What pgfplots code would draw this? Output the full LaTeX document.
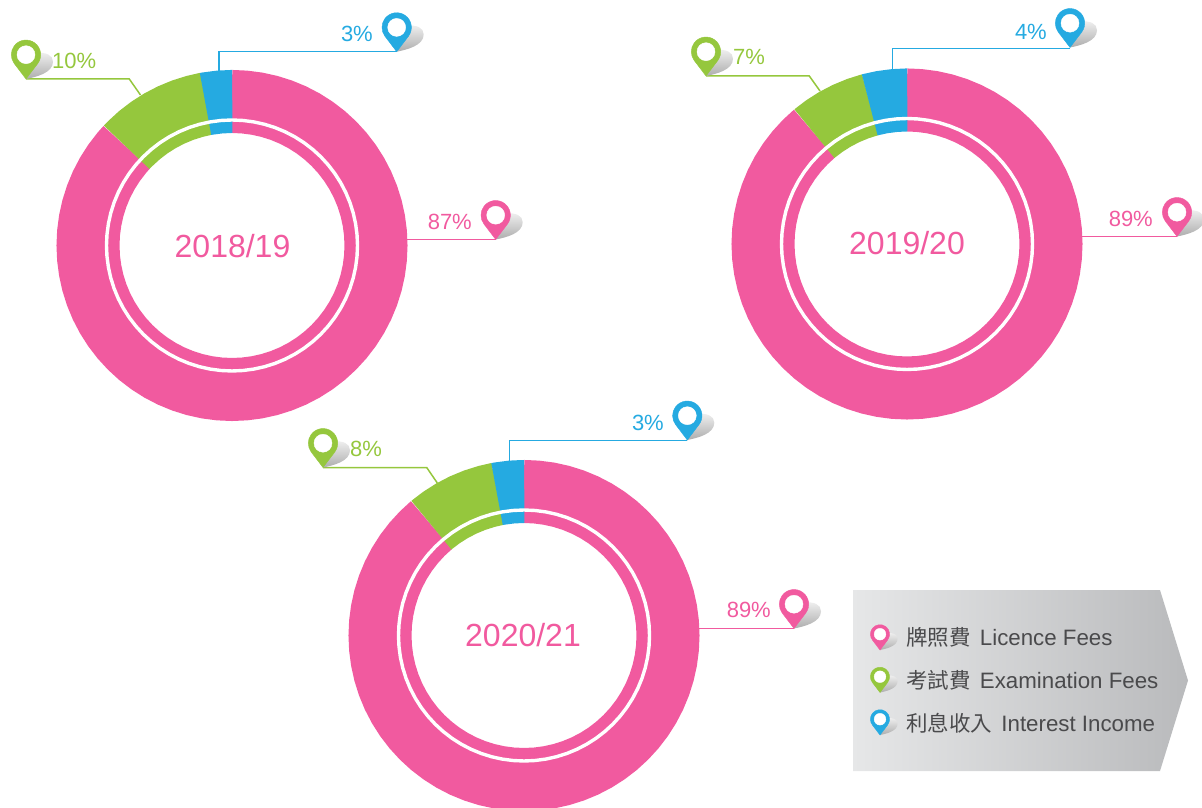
\documentclass[border=0pt]{standalone}
\usepackage{fontspec}
\setmainfont{Liberation Sans}
\newfontfamily\cjk{Noto Sans CJK TC}
\usepackage{pgfplots}
\usepackage{pgfplotstable}
\pgfplotsset{compat=1.18}
\usepgfplotslibrary{polar}

\definecolor{cpink}{HTML}{F15A9F}
\definecolor{cgreen}{HTML}{95C73D}
\definecolor{cblue}{HTML}{25AAE1}
\definecolor{ctext}{HTML}{4A4A4C}
\definecolor{boxl}{HTML}{E6E7E8}
\definecolor{boxr}{HTML}{B9BABC}

% map pin, origin at the tip
\newcommand{\declarepin}[2]{%
  \pgfdeclareplotmark{#1}{%
    \begin{scope}[x=1pt,y=1pt]
      \shade[top color=black!6,bottom color=black!32,draw=none]
        (0,0) .. controls (10,2) and (27,6) .. (27,17.3)
        .. controls (27,24) and (20,27) .. (10,26) -- cycle;
      \fill[#2] (0,0) -- (11.7,15.4) arc[start angle=-37.2,end angle=217.2,radius=14.7] -- cycle;
      \fill[white] (0,24.3) circle[radius=9];
    \end{scope}}}
\declarepin{pinpink}{cpink}
\declarepin{pingreen}{cgreen}
\declarepin{pinblue}{cblue}

\pgfplotstableread{
a r
0 125.5
5 125.5
10 125.5
15 125.5
20 125.5
25 125.5
30 125.5
35 125.5
40 125.5
45 125.5
50 125.5
55 125.5
60 125.5
65 125.5
70 125.5
75 125.5
80 125.5
85 125.5
90 125.5
95 125.5
100 125.5
105 125.5
110 125.5
115 125.5
120 125.5
125 125.5
130 125.5
135 125.5
140 125.5
145 125.5
150 125.5
155 125.5
160 125.5
165 125.5
170 125.5
175 125.5
180 125.5
185 125.5
190 125.5
195 125.5
200 125.5
205 125.5
210 125.5
215 125.5
220 125.5
225 125.5
230 125.5
235 125.5
240 125.5
245 125.5
250 125.5
255 125.5
260 125.5
265 125.5
270 125.5
275 125.5
280 125.5
285 125.5
290 125.5
295 125.5
300 125.5
305 125.5
310 125.5
315 125.5
320 125.5
325 125.5
330 125.5
335 125.5
340 125.5
345 125.5
350 125.5
355 125.5
360 125.5
}\ringtable

\pgfplotsset{
  donut/.style={hide axis,scale only axis,width=400pt,height=400pt,
    xmin=-200,xmax=200,ymin=-200,ymax=200,clip=false,anchor=center},
  band/.style={data cs=polar,no markers,line width=63pt,line cap=butt,#1},
  ring/.style={data cs=polar,no markers,line width=3.4pt,white},
  leader/.style={no markers,line width=1.5pt,#1},
}
\tikzset{pct/.style={font=\fontsize{22}{24}\selectfont,inner sep=0pt}}

\begin{document}
\begin{tikzpicture}
\path[use as bounding box] (0,0) rectangle (1202pt,808pt);

% 2018/19
\begin{axis}[donut,at={(232pt,562.5pt)}]
\addplot[band=cpink] coordinates {(90,144) (89.5,144) (85,144) (80,144) (75,144) (70,144) (65,144) (60,144) (55,144) (50,144) (45,144) (40,144) (35,144) (30,144) (25,144) (20,144) (15,144) (10,144) (5,144) (0,144) (-5,144) (-10,144) (-15,144) (-20,144) (-25,144) (-30,144) (-35,144) (-40,144) (-45,144) (-50,144) (-55,144) (-60,144) (-65,144) (-70,144) (-75,144) (-80,144) (-85,144) (-90,144) (-95,144) (-100,144) (-105,144) (-110,144) (-115,144) (-120,144) (-125,144) (-130,144) (-135,144) (-140,144) (-145,144) (-150,144) (-155,144) (-160,144) (-165,144) (-170,144) (-175,144) (-180,144) (-185,144) (-190,144) (-195,144) (-200,144) (-205,144) (-210,144) (-215,144) (-220,144) (-222.5,144) (-223,144)};
\addplot[band=cgreen] coordinates {(100.4,144) (100.9,144) (105,144) (110,144) (115,144) (120,144) (125,144) (130,144) (135,144) (136.5,144) (137,144)};
\addplot[band=cblue] coordinates {(89.9,144) (90.4,144) (95,144) (100,144) (100.1,144) (100.6,144)};
\addplot[ring] table[x=a,y=r] {\ringtable};
\end{axis}

% 2019/20
\begin{axis}[donut,at={(907pt,564pt)}]
\addplot[band=cpink] coordinates {(90,144) (89.5,144) (85,144) (80,144) (75,144) (70,144) (65,144) (60,144) (55,144) (50,144) (45,144) (40,144) (35,144) (30,144) (25,144) (20,144) (15,144) (10,144) (5,144) (0,144) (-5,144) (-10,144) (-15,144) (-20,144) (-25,144) (-30,144) (-35,144) (-40,144) (-45,144) (-50,144) (-55,144) (-60,144) (-65,144) (-70,144) (-75,144) (-80,144) (-85,144) (-90,144) (-95,144) (-100,144) (-105,144) (-110,144) (-115,144) (-120,144) (-125,144) (-130,144) (-135,144) (-140,144) (-145,144) (-150,144) (-155,144) (-160,144) (-165,144) (-170,144) (-175,144) (-180,144) (-185,144) (-190,144) (-195,144) (-200,144) (-205,144) (-210,144) (-215,144) (-220,144) (-225,144) (-229.5,144) (-230,144)};
\addplot[band=cgreen] coordinates {(104.8,144) (105.3,144) (110,144) (115,144) (120,144) (125,144) (129.5,144) (130,144)};
\addplot[band=cblue] coordinates {(89.9,144) (90.4,144) (95,144) (100,144) (104.5,144) (105,144)};
\addplot[ring] table[x=a,y=r] {\ringtable};
\end{axis}

% 2020/21
\begin{axis}[donut,at={(524pt,172.5pt)}]
\addplot[band=cpink] coordinates {(90,144) (89.5,144) (85,144) (80,144) (75,144) (70,144) (65,144) (60,144) (55,144) (50,144) (45,144) (40,144) (35,144) (30,144) (25,144) (20,144) (15,144) (10,144) (5,144) (0,144) (-5,144) (-10,144) (-15,144) (-20,144) (-25,144) (-30,144) (-35,144) (-40,144) (-45,144) (-50,144) (-55,144) (-60,144) (-65,144) (-70,144) (-75,144) (-80,144) (-85,144) (-90,144) (-95,144) (-100,144) (-105,144) (-110,144) (-115,144) (-120,144) (-125,144) (-130,144) (-135,144) (-140,144) (-145,144) (-150,144) (-155,144) (-160,144) (-165,144) (-170,144) (-175,144) (-180,144) (-185,144) (-190,144) (-195,144) (-200,144) (-205,144) (-210,144) (-215,144) (-220,144) (-225,144) (-229.5,144) (-230,144)};
\addplot[band=cgreen] coordinates {(100.6,144) (101.1,144) (105,144) (110,144) (115,144) (120,144) (125,144) (129.5,144) (130,144)};
\addplot[band=cblue] coordinates {(89.9,144) (90.4,144) (95,144) (100,144) (100.3,144) (100.8,144)};
\addplot[ring] table[x=a,y=r] {\ringtable};
\end{axis}

% leaders, pins, labels and the legend, in picture pixels
\begin{axis}[hide axis,scale only axis,width=1202pt,height=808pt,at={(0pt,0pt)},anchor=south west,
  xmin=0,xmax=1202,ymin=0,ymax=808,y dir=reverse,clip=false]

\addplot[no markers,draw=none,left color=boxl,right color=boxr] coordinates {(853,590) (1160,590) (1188,680.5) (1160,771) (853,771)} --cycle;

\addplot[leader=cblue] coordinates {(396.7,51.7) (219,51.7) (219,73)};
\addplot[leader=cgreen] coordinates {(26,79) (129.3,79) (140.5,95)};
\addplot[leader=cpink] coordinates {(495.7,239.5) (407,239.5)};
\addplot[leader=cblue] coordinates {(1070,48.5) (892.7,48.5) (892.7,70)};
\addplot[leader=cgreen] coordinates {(706,76) (809.3,76) (820,91)};
\addplot[leader=cpink] coordinates {(1177,236.5) (1082,236.5)};
\addplot[leader=cblue] coordinates {(687.3,440.5) (509.7,440.5) (509.7,461)};
\addplot[leader=cgreen] coordinates {(323,467.5) (426.7,467.5) (437.3,483)};
\addplot[leader=cpink] coordinates {(794,628.5) (699,628.5)};

\addplot[only marks,mark=pinpink] coordinates {(495.7,239.5) (1177,236.5) (794,628.5)};
\addplot[only marks,mark=pingreen] coordinates {(26,79) (706,76) (323,467.5)};
\addplot[only marks,mark=pinblue] coordinates {(396.7,51.7) (1070,47.5) (687.3,440)};

\addplot[only marks,mark=pinpink,mark options={scale=.65}] coordinates {(880,650)};
\addplot[only marks,mark=pingreen,mark options={scale=.65}] coordinates {(880,692.5)};
\addplot[only marks,mark=pinblue,mark options={scale=.65}] coordinates {(880,735)};

\node[font=\fontsize{32}{34}\selectfont,text=cpink] at (axis cs:232.5,246) {2018/19};
\node[font=\fontsize{32}{34}\selectfont,text=cpink] at (axis cs:907,243) {2019/20};
\node[font=\fontsize{32}{34}\selectfont,text=cpink] at (axis cs:523,635) {2020/21};

\node[pct,text=cgreen,anchor=west] at (axis cs:52,60.5) {10\%};
\node[pct,text=cblue,anchor=east] at (axis cs:373,34) {3\%};
\node[pct,text=cpink,anchor=east] at (axis cs:472,222) {87\%};
\node[pct,text=cgreen,anchor=west] at (axis cs:733,57) {7\%};
\node[pct,text=cblue,anchor=east] at (axis cs:1047,32) {4\%};
\node[pct,text=cpink,anchor=east] at (axis cs:1153,219) {89\%};
\node[pct,text=cgreen,anchor=west] at (axis cs:350,449) {8\%};
\node[pct,text=cblue,anchor=east] at (axis cs:664,423) {3\%};
\node[pct,text=cpink,anchor=east] at (axis cs:771,610) {89\%};

\node[pct,text=ctext,anchor=west,font=\fontsize{22.3}{24}\selectfont] at (axis cs:906,637.5) {{\cjk\fontsize{21.5}{24}\selectfont 牌照費}\hspace{3pt} Licence Fees};
\node[pct,text=ctext,anchor=west,font=\fontsize{22.3}{24}\selectfont] at (axis cs:906,680.5) {{\cjk\fontsize{21.5}{24}\selectfont 考試費}\hspace{3pt} Examination Fees};
\node[pct,text=ctext,anchor=west,font=\fontsize{22.3}{24}\selectfont] at (axis cs:906,723.5) {{\cjk\fontsize{21.5}{24}\selectfont 利息收入}\hspace{3pt} Interest Income};
\end{axis}
\end{tikzpicture}
\end{document}
